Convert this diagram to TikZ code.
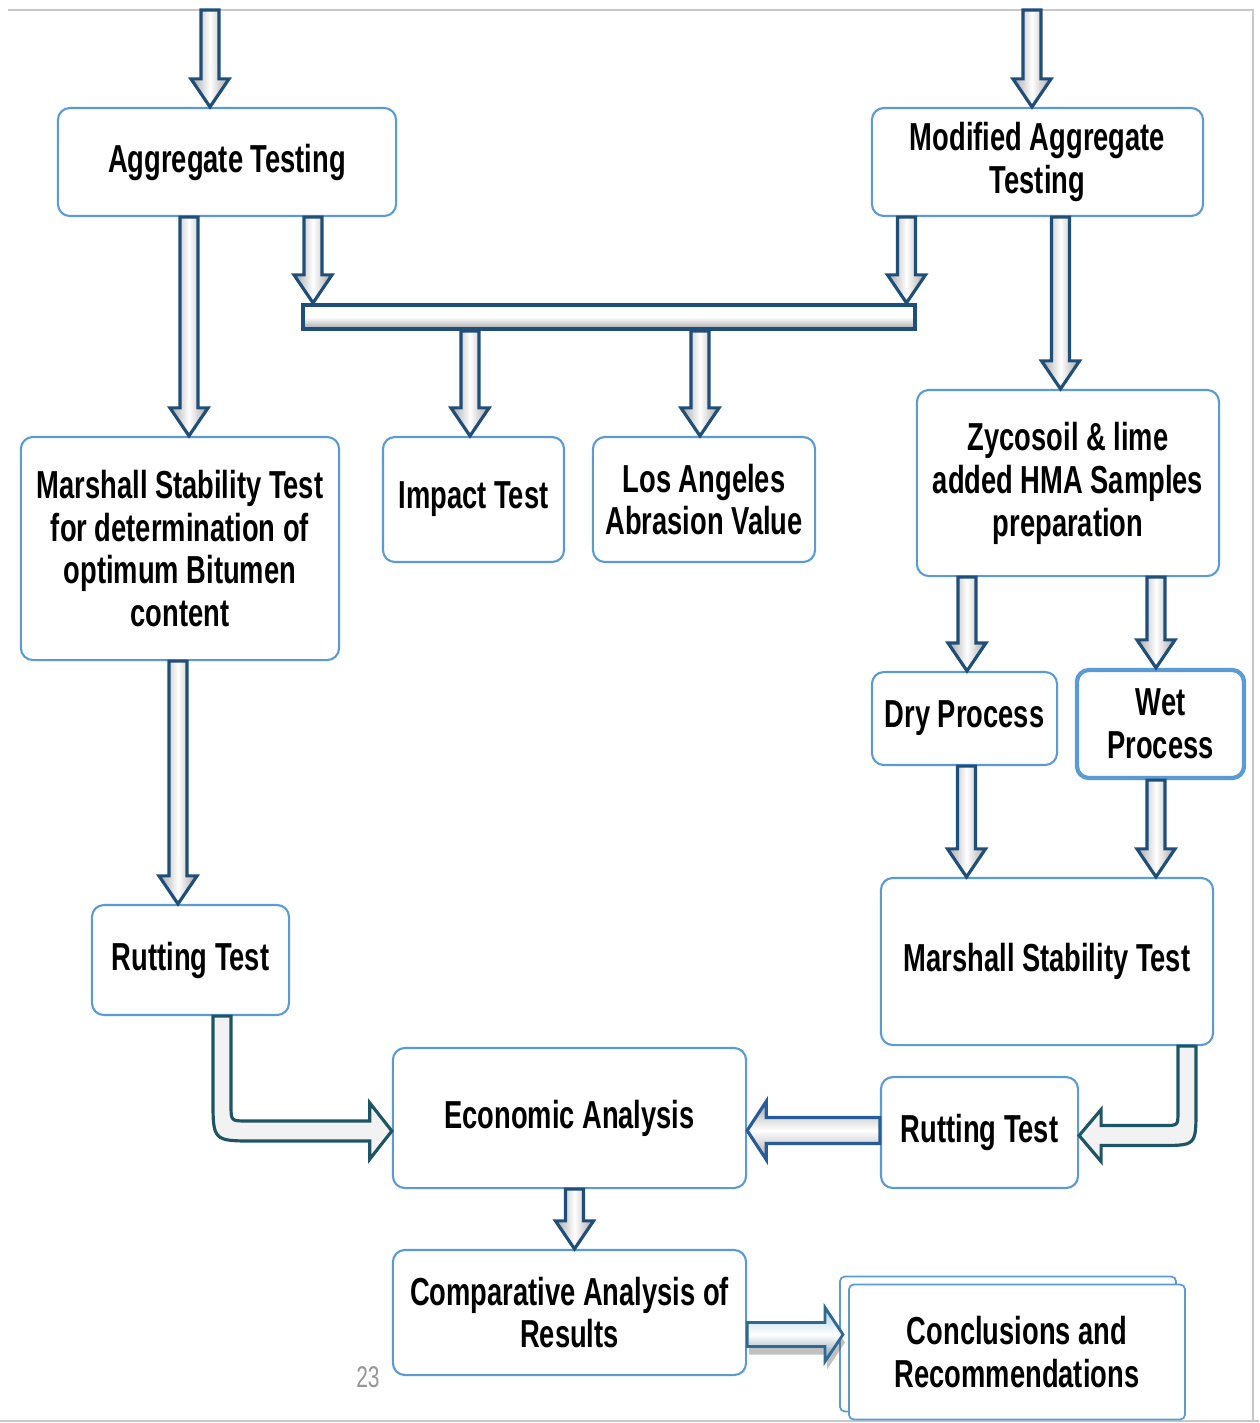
\documentclass[tikz,border=0pt]{standalone}
\usepackage{fontspec}
\newfontfamily\flowfont{Liberation Sans}[FakeStretch=0.7]
\usetikzlibrary{calc,shadows}
\definecolor{boxblue}{RGB}{91,155,213}
\definecolor{arrowblue}{RGB}{31,78,121}
\definecolor{bentteal}{RGB}{30,85,100}
\definecolor{leftblue}{RGB}{40,92,152}
\definecolor{conclblue}{RGB}{45,105,145}
\definecolor{conclfill}{RGB}{170,205,230}
\definecolor{framegray}{RGB}{200,200,200}
\definecolor{numgray}{RGB}{150,150,150}
\newcommand{\blockdown}[3][]{%
  \draw[downarrow,#1] let \p1=(#2), \p2=(#3) in
    (\x1-0.09cm,\y1) -- (\x1-0.09cm,\y2+0.28cm) -- (\x1-0.19cm,\y2+0.28cm) -- (\x1,\y2)
    -- (\x1+0.19cm,\y2+0.28cm) -- (\x1+0.09cm,\y2+0.28cm) -- (\x1+0.09cm,\y1) -- cycle;}

\begin{document}
\begin{tikzpicture}[x=0.01cm,y=-0.01cm,
  box/.style={draw=boxblue,line width=0.6pt,rounded corners=0.12cm,fill=white,align=center,inner sep=0pt,
    font=\flowfont\bfseries\fontsize{11.1}{12.2}\selectfont},
  downarrow/.style={draw=arrowblue,line width=0.9pt,left color=black!35,right color=black!35,middle color=white},
  bentarrow/.style={draw=bentteal,line width=0.9pt,fill=black!5},
  leftarrow/.style={draw=leftblue,line width=0.9pt,top color=black!35,bottom color=black!35,middle color=white},
  conclarrow/.style={draw=conclblue,line width=0.8pt,top color=conclfill,bottom color=conclfill!70!black,middle color=white,
    drop shadow={shadow xshift=0.02cm,shadow yshift=-0.08cm,opacity=0.35,fill=black!70}}]
\useasboundingbox (0,0) rectangle (1259,1423);
\draw[framegray,line width=0.8pt] (8,10) -- (1253,10) -- (1253,1421);
\draw[framegray,line width=0.8pt] (0,1421) -- (1259,1421);
\coordinate (topL) at (210,10); \coordinate (topR) at (1032,10);

\node[box,minimum width=3.38cm,minimum height=1.08cm] (agg) at (227,162) {Aggregate Testing};
\node[box,minimum width=3.31cm,minimum height=1.08cm] (mod) at (1037.5,162) {Modified Aggregate\\Testing};
\node[box,minimum width=3.18cm,minimum height=2.23cm] (mar) at (180,548.5) {Marshall Stability Test\\for determination of\\optimum Bitumen\\content};
\node[box,minimum width=1.81cm,minimum height=1.25cm] (imp) at (473.5,499.5) {Impact Test};
\node[box,minimum width=2.22cm,minimum height=1.25cm] (la) at (704,499.5) {Los Angeles\\Abrasion Value};
\node[box,minimum width=3.02cm,minimum height=1.86cm] (zyc) at (1068,483) {Zycosoil \& lime\\added HMA Samples\\preparation};
\node[box,minimum width=1.85cm,minimum height=0.93cm] (dry) at (964.5,718.5) {Dry Process};
\node[box,line width=1.2pt,minimum width=1.67cm,minimum height=1.08cm] (wet) at (1160.5,724) {Wet\\Process};
\node[box,minimum width=3.32cm,minimum height=1.67cm] (marR) at (1047,961.5) {Marshall Stability Test};
\node[box,minimum width=1.97cm,minimum height=1.10cm] (rutL) at (190.5,960) {Rutting Test};
\node[box,minimum width=3.53cm,minimum height=1.40cm] (econ) at (569.5,1118) {Economic Analysis};
\node[box,minimum width=1.97cm,minimum height=1.11cm] (rutR) at (979.5,1132.5) {Rutting Test};
\node[box,minimum width=3.53cm,minimum height=1.25cm] (comp) at (569.5,1312.5) {Comparative Analysis of\\Results};
\node[box,line width=0.5pt,rounded corners=0.05cm,minimum width=3.36cm,minimum height=1.35cm,
  copy shadow={shadow xshift=-0.09cm,shadow yshift=0.08cm,draw=boxblue,fill=white}] (concl) at (1017,1352) {Conclusions and\\Recommendations};
\node[draw=arrowblue,line width=1.2pt,top color=white,bottom color=black!35,middle color=white,
  minimum width=6.12cm,minimum height=0.24cm,inner sep=0pt] (bar) at (609,317) {};
\node[font=\flowfont\fontsize{8.5}{9}\selectfont,text=numgray] (pnum) at (368,1377) {23};

\blockdown{topL}{agg.north}
\blockdown{topR}{mod.north}
\blockdown{$(agg.south)+(-38,0)$}{mar.north}
\blockdown{$(agg.south)+(86,0)$}{bar.north}
\blockdown{$(mod.south)+(-131,0)$}{bar.north}
\blockdown{$(bar.south)+(-139,0)$}{imp.north}
\blockdown{$(bar.south)+(91,0)$}{la.north}
\blockdown{$(mod.south)+(23,0)$}{zyc.north}
\blockdown{$(zyc.south)+(-101,0)$}{dry.north}
\blockdown{$(zyc.south)+(88,0)$}{wet.north}
\blockdown{$(dry.south)+(2,0)$}{marR.north}
\blockdown{$(wet.south)+(-4.5,0)$}{marR.north}
\blockdown{$(mar.south)+(-2,0)$}{rutL.north}
\blockdown{$(econ.south)+(5,0)$}{comp.north}

\draw[bentarrow] let \p1=($(rutL.south)+(31.5,0)$), \p2=($(econ.west)+(0,13)$) in
  (\x1-0.09cm,\y1) -- (\x1-0.09cm,\y2-0.1cm+0.42cm) .. controls (\x1-0.09cm,\y2-0.1cm) .. (\x1-0.09cm+0.42cm,\y2-0.1cm)
  -- (\x2-0.22cm,\y2-0.1cm) -- (\x2-0.22cm,\y2-0.28cm) -- (\x2,\y2) -- (\x2-0.22cm,\y2+0.28cm) -- (\x2-0.22cm,\y2+0.1cm)
  -- (\x1+0.09cm+0.16cm,\y2+0.1cm) .. controls (\x1+0.09cm,\y2+0.1cm) .. (\x1+0.09cm,\y2+0.1cm+0.16cm) -- (\x1+0.09cm,\y1) -- cycle;
\draw[bentarrow] let \p1=($(marR.south)+(140,0)$), \p2=($(rutR.east)+(0,3)$) in
  (\x1+0.09cm,\y1) -- (\x1+0.09cm,\y2-0.1cm+0.36cm) .. controls (\x1+0.09cm,\y2-0.1cm) .. (\x1+0.09cm-0.36cm,\y2-0.1cm)
  -- (\x2+0.22cm,\y2-0.1cm) -- (\x2+0.22cm,\y2-0.26cm) -- (\x2,\y2) -- (\x2+0.22cm,\y2+0.26cm) -- (\x2+0.22cm,\y2+0.1cm)
  -- (\x1-0.09cm-0.14cm,\y2+0.1cm) .. controls (\x1-0.09cm,\y2+0.1cm) .. (\x1-0.09cm,\y2+0.1cm+0.14cm) -- (\x1-0.09cm,\y1) -- cycle;
\draw[leftarrow] let \p1=($(rutR.west)+(0,-2)$), \p2=(econ.east) in
  (\x1,\y1+0.13cm) -- (\x2+0.19cm,\y1+0.13cm) -- (\x2+0.19cm,\y1+0.29cm) -- (\x2,\y1)
  -- (\x2+0.19cm,\y1-0.29cm) -- (\x2+0.19cm,\y1-0.13cm) -- (\x1,\y1-0.13cm) -- cycle;
\draw[conclarrow] let \p1=($(comp.east)+(0,22)$), \p2=($(concl.west)+(-5,0)$) in
  (\x1,\y1+0.12cm) -- (\x2-0.18cm,\y1+0.12cm) -- (\x2-0.18cm,\y1+0.27cm) -- (\x2,\y1)
  -- (\x2-0.18cm,\y1-0.27cm) -- (\x2-0.18cm,\y1-0.12cm) -- (\x1,\y1-0.12cm) -- cycle;
\end{tikzpicture}
\end{document}
